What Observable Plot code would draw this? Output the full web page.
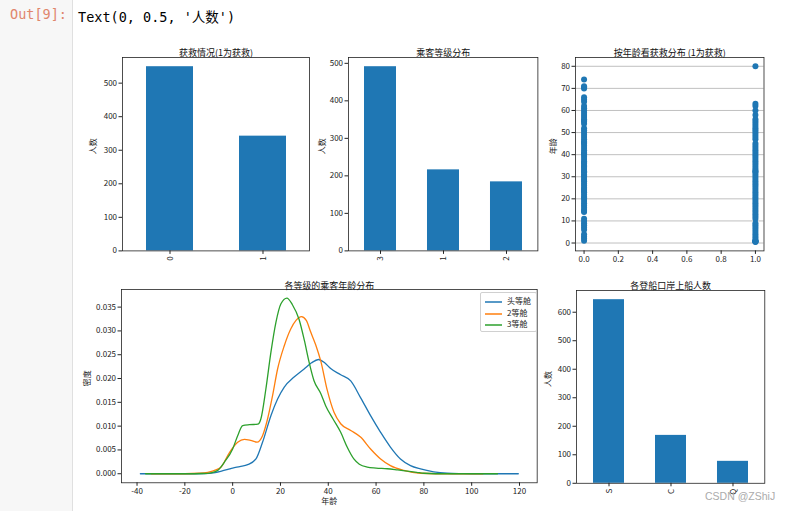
<!DOCTYPE html>
<html><head><meta charset="utf-8">
<script src="https://cdn.jsdelivr.net/npm/d3@7"></script>
<script src="https://cdn.jsdelivr.net/npm/@observablehq/plot@0.6"></script>
<style>
body{margin:0;background:#fff;}
#page{position:relative;width:786px;height:511px;overflow:hidden;background:#fff;font-family:"Noto Sans CJK SC",sans-serif;}
#gutter{position:absolute;left:0;top:0;width:72px;height:511px;background:#f7f7f7;border-right:1px solid #e0e0e0;}
#prompt{position:absolute;left:10px;top:6px;font-family:"DejaVu Sans Mono",monospace;font-size:13.5px;color:#e0866c;}
#outtext{position:absolute;left:78px;top:6px;font-family:"DejaVu Sans Mono","Noto Sans CJK SC",monospace;font-size:13.5px;color:#000;}
#legend{position:absolute;left:480px;top:292px;width:55px;height:38px;border:1px solid #d0d0d0;border-radius:2px;background:#fff;font-size:8px;color:#222;}
#legend .row{position:absolute;left:4px;height:10px;line-height:10px;white-space:nowrap;}
#legend svg{vertical-align:middle;margin-right:5px;}
#wm{position:absolute;left:705px;top:490px;font-family:"Liberation Sans",Arial,sans-serif;font-size:10.5px;color:#ababab;}
</style></head>
<body><div id="page">
<div id="gutter"></div>
<div id="prompt">Out[9]:</div>
<div id="outtext">Text(0, 0.5, '人数')</div>
</div>
<script>
// ---------- data ----------
const survivedCats = ["0", "1"];
const survivedCounts = [549, 342];
const pclassCats = ["3", "1", "2"];
const pclassCounts = [491, 216, 184];
const embarkCats = ["S", "C", "Q"];
const embarkCounts = [644, 168, 77];
const ageDied = [1,2,3,4,6,7,8,9,10,11,14,14.5,15,16,17,18,19,20,20.5,21,22,23,23.5,24,24.5,25,26,27,28,28.5,29,30,30.5,31,32,32.5,33,34,34.5,35,36,36.5,37,38,39,40,40.5,41,42,43,44,45,45.5,46,47,48,49,50,51,52,54,55,55.5,56,57,58,59,60,61,62,64,65,66,70,70.5,71,74];
const ageSurvived = [0.42,0.67,0.75,0.83,0.92,1,2,3,4,5,6,7,8,9,11,12,13,14,15,16,17,18,19,20,21,22,23,24,25,26,27,28,29,30,31,32,32.5,33,34,35,36,37,38,39,40,41,42,43,44,45,47,48,49,50,51,52,53,54,55,56,58,60,62,63,80];
const classNames = ["头等舱", "2等舱", "3等舱"];
const kdeAge1 = [-38.6,-20,-12,-8,-5,-2,0,3,6.3,9.75,12.5,16,18.8,21.6,25.7,29.9,33,35.9,38.5,41,45.2,49.4,53.5,57.7,61.9,66,70.2,74.4,78.6,84.1,89.7,95,100,119.5];
const kdeDens1 = [0,0,0.00005,0.0002,0.0005,0.0009,0.0012,0.0015,0.0019,0.0031,0.0066,0.0122,0.0157,0.0182,0.0203,0.022,0.0233,0.024,0.0233,0.0221,0.0208,0.0195,0.016,0.0122,0.0087,0.0056,0.0031,0.0017,0.001,0.0004,0.0001,0.00002,0,0];
const kdeAge2 = [-34,-20,-14,-10.4,-7,-4.85,-1.4,2.1,4.9,7.5,10.2,12.5,14.6,16.7,18.8,21.6,24.3,26.5,28.8,30.8,32.7,34.8,36.9,39.6,42.4,45.2,49.4,53.5,57.7,61.9,66,71.6,78.6,85,104.7];
const kdeDens2 = [0,0,0.0001,0.0003,0.0008,0.0014,0.0044,0.0066,0.0072,0.007,0.00664,0.008,0.0115,0.0164,0.022,0.0269,0.0304,0.0322,0.033,0.0322,0.0297,0.027,0.0236,0.0175,0.0129,0.0105,0.0091,0.0077,0.0052,0.0031,0.0017,0.0007,0.0001,0,0];
const kdeAge3 = [-36.4,-20,-12,-9,-6,-3.5,0,2.1,4.2,7,10.5,11.8,13.9,16,18.1,20.2,22.7,25,27.8,30,32,34,36.9,38.9,42,45.2,48,50.7,53,56.3,60,64.7,69,73,77,80,85,110.8];
const kdeDens3 = [0,0,0.00005,0.0002,0.0008,0.0024,0.0052,0.008,0.0101,0.0103,0.0104,0.0115,0.0178,0.0255,0.0318,0.0357,0.0369,0.0355,0.0324,0.028,0.0234,0.0196,0.0168,0.0143,0.0115,0.0087,0.0055,0.0031,0.002,0.0014,0.0012,0.00105,0.0008,0.00055,0.0003,0.0001,0,0];
const titles = ["获救情况(1为获救)", "乘客等级分布", "按年龄看获救分布 (1为获救)", "各等级的乘客年龄分布", "各登船口岸上船人数"];
const countTicks = [0,100,200,300,400,500];
const embarkTicks = [0,100,200,300,400,500,600];
const ageTicks = [0,10,20,30,40,50,60,70,80];
const survTicks = [0,0.2,0.4,0.6,0.8,1.0];
const kdeXTicks = [-40,-20,0,20,40,60,80,100,120];
const kdeYTicks = [0,0.005,0.01,0.015,0.02,0.025,0.03,0.035];

// ---------- helpers ----------
const BLUE = "#1f77b4", ORANGE = "#ff7f0e", GREEN = "#2ca02c";
const colors = [BLUE, ORANGE, GREEN];
const page = document.getElementById("page");
const FONT = "'Noto Sans CJK SC', sans-serif";

function place(svg, fx, fy, ml, mt) {
  svg.style.position = "absolute";
  svg.style.left = (fx - ml) + "px";
  svg.style.top = (fy - mt) + "px";
  page.appendChild(svg);
}
function common(fw, fh, m) {
  return {
    width: m[3] + fw + m[1], height: m[0] + fh + m[2],
    marginTop: m[0], marginRight: m[1], marginBottom: m[2], marginLeft: m[3],
    style: {background: "none", overflow: "visible", fontFamily: FONT, fontSize: "8px", color: "#222"}
  };
}
function titleMark(t, dy) {
  return Plot.text([t], {frameAnchor: "top", dy: dy, text: d => d, fontSize: 9, fill: "#111"});
}
function yLabel(t, off) {
  return Plot.text([t], {frameAnchor: "left", dx: -off, rotate: -90, text: d => d, fontSize: 8, fill: "#222"});
}
function barPanel(cats, counts, ymax, yticks, title, fx, fy, fw, fh, labOff) {
  const rows = cats.map((c, i) => ({cat: c, n: counts[i]}));
  const m = [25, 6, 22, 40];
  const svg = Plot.plot({
    ...common(fw, fh, m),
    x: {type: "band", domain: cats, paddingInner: 0.5, paddingOuter: 0.25},
    y: {domain: [0, ymax]},
    marks: [
      Plot.barY(rows, {x: "cat", y: "n", fill: BLUE}),
      Plot.axisY({ticks: yticks, tickSize: 3.5, tickPadding: 2, label: null}),
      Plot.axisX({tickSize: 3.5, tickPadding: 2, tickRotate: -90, label: null}),
      titleMark(title, -8),
      yLabel("人数", labOff),
      Plot.frame({stroke: "#222", strokeWidth: 0.8})
    ]
  });
  place(svg, fx, fy, m[3], m[0]);
}

// Panel 1
barPanel(survivedCats, survivedCounts, 576.45, countTicks, titles[0], 122, 57.3, 187, 193.4, 29);
// Panel 2
barPanel(pclassCats, pclassCounts, 515.55, countTicks, titles[1], 348.3, 57.3, 189.4, 193.4, 26);
// Panel 5
barPanel(embarkCats, embarkCounts, 676.2, embarkTicks, titles[4], 575.7, 289.5, 188.3, 192.8, 28);

// Panel 3 scatter
{
  const rows = ageDied.map(a => ({s: 0, age: a})).concat(ageSurvived.map(a => ({s: 1, age: a})));
  const m = [25, 6, 22, 40];
  const fw = 188.5, fh = 193.4;
  const svg = Plot.plot({
    ...common(fw, fh, m),
    x: {domain: [-0.05, 1.05]},
    y: {domain: [-3.56, 83.98]},
    marks: [
      Plot.gridY(ageTicks, {stroke: "#b0b0b0", strokeOpacity: 1, strokeWidth: 0.8}),
      Plot.dot(rows, {x: "s", y: "age", r: 3, fill: BLUE, stroke: "none"}),
      Plot.axisY({ticks: ageTicks, tickSize: 3.5, tickPadding: 2, label: null}),
      Plot.axisX({ticks: survTicks, tickFormat: d3.format(".1f"), tickSize: 3.5, tickPadding: 2, label: null}),
      titleMark(titles[2], -8),
      yLabel("年龄", 22),
      Plot.frame({stroke: "#222", strokeWidth: 0.8})
    ]
  });
  place(svg, 575, 57.3, m[3], m[0]);
}

// Panel 4 KDE
{
  const series = [[kdeAge1, kdeDens1], [kdeAge2, kdeDens2], [kdeAge3, kdeDens3]];
  const rows = [];
  series.forEach(([ax, dv], k) => ax.forEach((a, i) => rows.push({cls: classNames[k], age: a, d: dv[i]})));
  const m = [25, 6, 28, 40];
  const fw = 415.7, fh = 193.3;
  const svg = Plot.plot({
    ...common(fw, fh, m),
    x: {domain: [-46.5, 127.4]},
    y: {domain: [-0.0019, 0.0387]},
    color: {domain: classNames, range: colors},
    marks: [
      Plot.line(rows, {x: "age", y: "d", z: "cls", stroke: "cls", strokeWidth: 1.3, curve: "monotone-x"}),
      Plot.axisY({ticks: kdeYTicks, tickFormat: d3.format(".3f"), tickSize: 3.5, tickPadding: 2, label: null}),
      Plot.axisX({ticks: kdeXTicks, tickFormat: d => String(d), tickSize: 3.5, tickPadding: 2, label: null}),
      titleMark(titles[3], -7),
      yLabel("密度", 34),
      Plot.text(["年龄"], {frameAnchor: "bottom", dy: 21, text: d => d, fontSize: 8, fill: "#222"}),
      Plot.frame({stroke: "#222", strokeWidth: 0.8})
    ]
  });
  place(svg, 121, 289, m[3], m[0]);
}

// legend
{
  const lg = document.createElement("div");
  lg.id = "legend";
  const tops = [3, 15, 26];
  classNames.forEach((n, i) => {
    const r = document.createElement("div");
    r.className = "row";
    r.style.top = tops[i] + "px";
    r.innerHTML = `<svg width="17" height="4"><line x1="0" x2="17" y1="2" y2="2" stroke="${colors[i]}" stroke-width="1.5"/></svg>${n}`;
    lg.appendChild(r);
  });
  page.appendChild(lg);
  const wm = document.createElement("div");
  wm.id = "wm";
  wm.textContent = "CSDN @ZShiJ";
  page.appendChild(wm);
}
</script>
</body></html>
